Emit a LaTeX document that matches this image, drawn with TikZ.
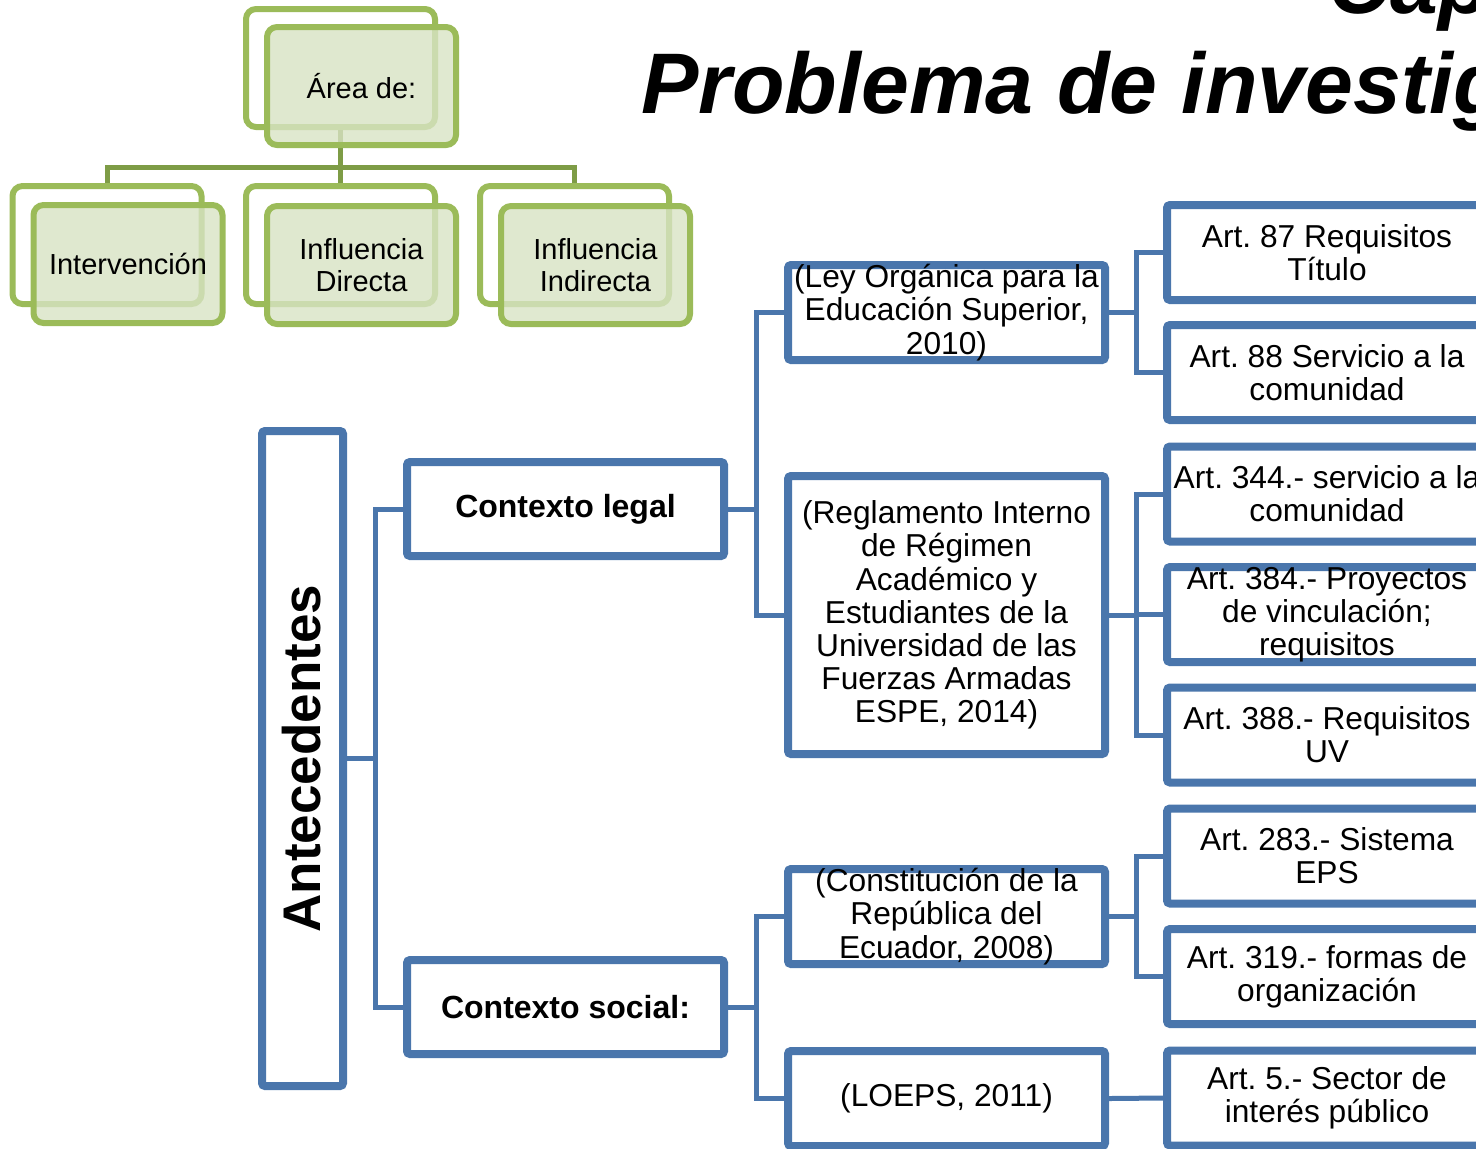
\documentclass[tikz,border=0pt]{standalone}
\usepackage{fontspec}
\setmainfont{Liberation Sans}
\usetikzlibrary{shadows}
\definecolor{bblue}{RGB}{74,118,172}
\definecolor{ggreen}{RGB}{155,187,89}
\definecolor{gdark}{RGB}{126,156,70}
\definecolor{gfill}{RGB}{216,227,196}
\tikzset{
  bbox/.style={draw=bblue, line width=4pt, fill=white, rounded corners=1.5pt,
    inner xsep=0pt, inner ysep=-3pt, align=center,
    font=\fontsize{15.85}{16.6}\selectfont,
    drop shadow={shadow xshift=1.2pt, shadow yshift=-1.5pt, opacity=0.3}},
  midbox/.style={bbox, minimum width=158.5pt, minimum height=47.5pt},
  artbox/.style={bbox, minimum width=160pt, minimum height=47.5pt},
  ctxbox/.style={bbox, minimum width=158.5pt, minimum height=47pt,
    font=\fontsize{16}{18}\selectfont\bfseries},
  bconn/.style={draw=bblue, line width=2.5pt},
  gback/.style={draw=ggreen, line width=3pt, fill=white, rounded corners=5pt,
    minimum width=94.5pt, minimum height=59pt, inner sep=0pt},
  gfront/.style={gback, fill=gfill, fill opacity=0.8, text opacity=1,
    align=center, font=\fontsize{14.5}{16}\selectfont},
  gconn/.style={draw=gdark, line width=2.5pt},
  titletext/.style={inner sep=0pt, font=\fontsize{43}{50}\selectfont\bfseries\itshape}
}
\begin{document}
\frenchspacing
\begin{tikzpicture}[x=0.5pt,y=-0.5pt]
\useasboundingbox (0,0) rectangle (1476,1148);
\clip (0,0) rectangle (1476,1148);

% title
\node[titletext, anchor=base west] (cap) at (1328,13) {Capítulo I};
\node[titletext, anchor=base west] (prob) at (641,113) {Problema de investigación};

% green hierarchy
\node[gback] (areab) at (340.5,68) {};
\node[gback] (intb) at (107,245) {};
\node[gback] (dirb) at (340.5,245) {};
\node[gback] (indb) at (574.5,245) {};
\coordinate (gj) at (340.5,167);
\draw[gconn] (areab.south) -- (gj);
\draw[gconn] (intb.north) |- (gj) -| (indb.north);
\draw[gconn] (gj) -- (dirb.north);
\node[gfront] (areaf) at (361.5,86) {Área de:};
\node[gfront] (intf) at (128,264) {Intervención};
\node[gfront] (dirf) at (361.5,265) {Influencia\\Directa};
\node[gfront] (indf) at (595.5,265) {Influencia\\Indirecta};

% blue tree
\node[bbox, minimum width=40.5pt, minimum height=327.5pt, inner ysep=0pt] (ant) at (302.5,758.5) {};
\node[rotate=90, inner sep=0pt, font=\fontsize{26.5}{30}\selectfont\bfseries] (antlabel) at (302,758.5) {Antecedentes};

\node[ctxbox] (legal) at (565.5,509) {Contexto legal};
\node[ctxbox] (social) at (565.5,1007) {Contexto social:};

\node[midbox] (ley) at (946.5,312.5) {(Ley Orgánica para la\\Educación Superior,\\2010)};
\node[midbox, minimum height=139pt] (regl) at (946.5,615) {(Reglamento Interno\\de Régimen\\Académico y\\Estudiantes de la\\Universidad de las\\Fuerzas Armadas\\ESPE, 2014)};
\node[midbox] (const) at (946.5,916.5) {(Constitución de la\\República del\\Ecuador, 2008)};
\node[midbox] (loeps) at (946.5,1098.5) {(LOEPS, 2011)};

\node[artbox] (a87) at (1327,252.5) {Art. 87 Requisitos\\Título};
\node[artbox] (a88) at (1327,372.5) {Art. 88 Servicio a la\\comunidad};
\node[artbox] (a344) at (1327,494) {Art. 344.- servicio a la\\comunidad};
\node[artbox] (a384) at (1327,614.5) {Art. 384.- Proyectos\\de vinculación;\\requisitos};
\node[artbox] (a388) at (1327,735) {Art. 388.- Requisitos\\UV};
\node[artbox] (a283) at (1327,856) {Art. 283.- Sistema\\EPS};
\node[artbox] (a319) at (1327,976.5) {Art. 319.- formas de\\organización};
\node[artbox] (a5) at (1327,1098) {Art. 5.- Sector de\\interés público};

% connectors
\coordinate (j1) at (375,758.5);
\draw[bconn] (ant.east) -- (j1);
\draw[bconn] (legal.west) -| (j1);
\draw[bconn] (social.west) -| (j1);

\coordinate (j2) at (756,509);
\draw[bconn] (legal.east) -- (j2);
\draw[bconn] (ley.west) -| (j2);
\draw[bconn] (regl.west) -| (j2);

\coordinate (j3) at (756,1007);
\draw[bconn] (social.east) -- (j3);
\draw[bconn] (const.west) -| (j3);
\draw[bconn] (loeps.west) -| (j3);

\coordinate (j4) at (1136,312.5);
\draw[bconn] (ley.east) -- (j4);
\draw[bconn] (a87.west) -| (j4);
\draw[bconn] (a88.west) -| (j4);

\coordinate (j5) at (1136,615);
\draw[bconn] (regl.east) -- (j5);
\draw[bconn] (a344.west) -| (j5);
\draw[bconn] (a384.west) -| (j5);
\draw[bconn] (a388.west) -| (j5);

\coordinate (j6) at (1136,916.5);
\draw[bconn] (const.east) -- (j6);
\draw[bconn] (a283.west) -| (j6);
\draw[bconn] (a319.west) -| (j6);

\draw[bconn] (loeps.east) -- (a5.west);
\end{tikzpicture}
\end{document}
